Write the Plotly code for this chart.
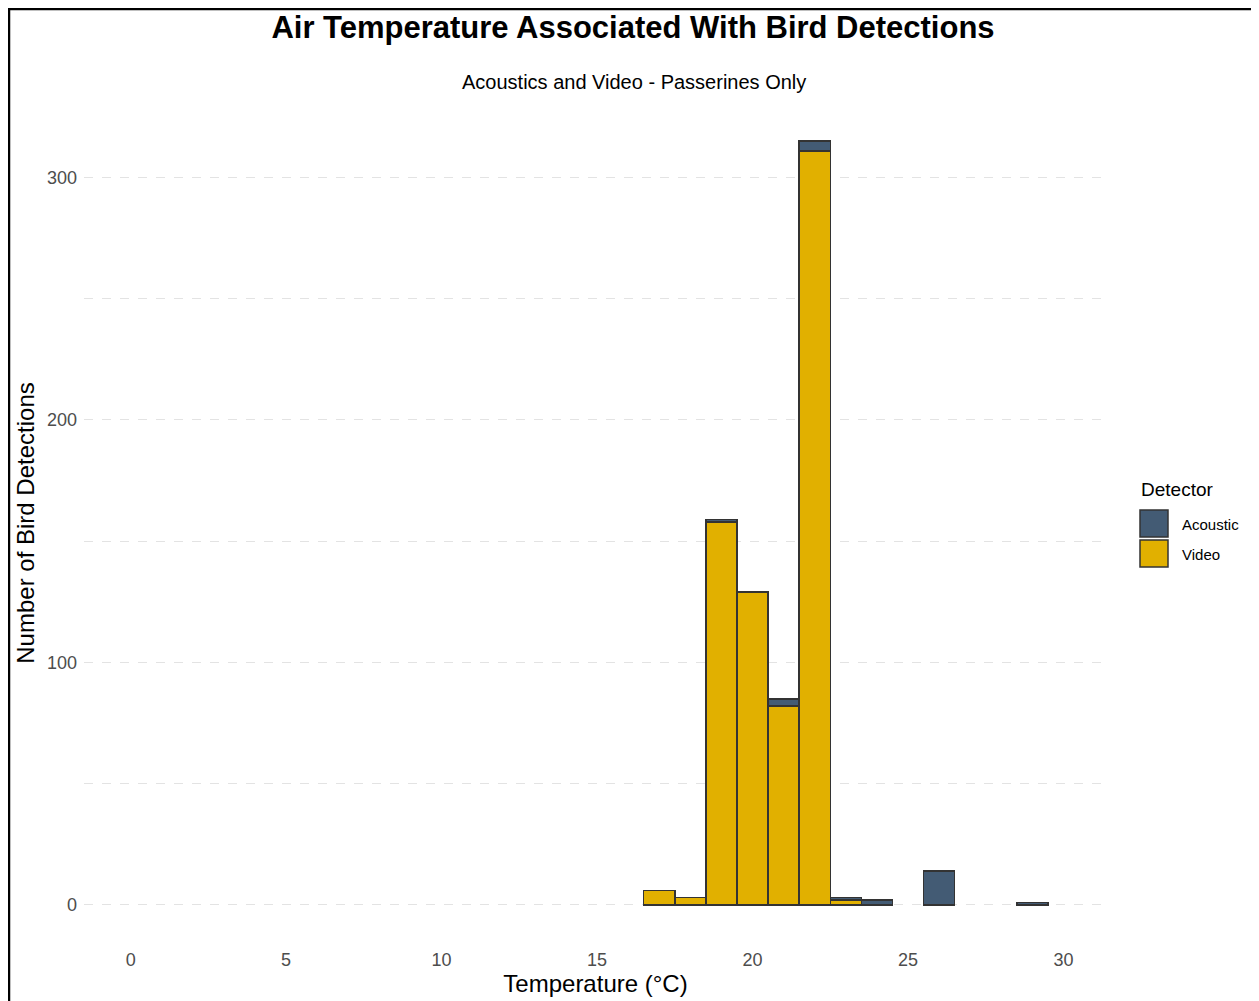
import plotly.graph_objects as go

# binned air temperature (bin centres, °C) and detection counts per detector
temps = [17, 18, 19, 20, 21, 22, 23, 24, 26, 29]
video = [6, 3, 158, 129, 82, 311, 2, None, None, None]
acoustic = [None, None, 1, None, 3, 4, 1, 2, 14, 1]

detectors = ["Acoustic", "Video"]
colours = {"Acoustic": "#435B74", "Video": "#E1B000"}

# page is offset by the 8px body margin, so work in page pixels and shift
OFF = 8
W, H = 1259 - OFF, 1001 - OFF
ML, MR, MT, MB = 84 - OFF, 152, 103 - OFF, 58


def px(x):
    return (x - OFF - ML) / (W - ML - MR)


def py(y):
    return 1 - (y - OFF - MT) / (H - MT - MB)


fig = go.Figure()
fig.add_trace(go.Bar(x=temps, y=video, name="Video", width=1, showlegend=False,
                     marker=dict(color=colours["Video"], line=dict(color="#333333", width=1.5))))
fig.add_trace(go.Bar(x=temps, y=acoustic, name="Acoustic", width=1, showlegend=False,
                     marker=dict(color=colours["Acoustic"], line=dict(color="#333333", width=1.5))))

fig.update_layout(
    width=W, height=H,
    margin=dict(l=ML, r=MR, t=MT, b=MB, autoexpand=False),
    barmode="stack",
    plot_bgcolor="white",
    paper_bgcolor="white",
    font=dict(family="Liberation Sans, Arial, sans-serif", color="black"),
    title=dict(text="<b>Air Temperature Associated With Bird Detections</b>",
               x=px(633), xref="paper", xanchor="center", y=1 - 19 / H, yanchor="middle",
               font=dict(size=31, color="black")),
    xaxis=dict(range=[-1.5, 31.4], tickvals=[0, 5, 10, 15, 20, 25, 30],
               showgrid=False, zeroline=False, showline=False, ticks="",
               tickfont=dict(size=18, color="#4D4D4D"), ticklabelstandoff=4,
               title=dict(text="Temperature (°C)", font=dict(size=24), standoff=5)),
    yaxis=dict(range=[-15.75, 330.75], tickvals=[0, 100, 200, 300],
               showgrid=True, gridcolor="#E3E3E3", griddash="dash", gridwidth=1,
               minor=dict(tickvals=[50, 150, 250], showgrid=True, gridcolor="#E3E3E3",
                          griddash="dash", gridwidth=1),
               zeroline=False, showline=False, ticks="",
               tickfont=dict(size=18, color="#4D4D4D"), ticklabelstandoff=6,
               title=dict(text="Number of Bird Detections", font=dict(size=24), standoff=5)),
)

fig.add_annotation(text="Acoustics and Video - Passerines Only", xref="paper", yref="paper",
                   x=px(634), y=py(69), showarrow=False, font=dict(size=20, color="black"))

# legend drawn by hand so the keys are the size of the original
fig.add_annotation(text="Detector", xref="paper", yref="paper", x=px(1139), y=py(490),
                   xanchor="left", yanchor="middle", showarrow=False,
                   font=dict(size=19, color="black"))
for i, name in enumerate(detectors):
    top = 510 + i * 30
    fig.add_shape(type="rect", xref="paper", yref="paper",
                  x0=px(1140), x1=px(1168), y0=py(top + 27), y1=py(top),
                  fillcolor=colours[name], line=dict(color="#333333", width=1.5))
    fig.add_annotation(text=name, xref="paper", yref="paper", x=px(1180), y=py(top + 14),
                       xanchor="left", yanchor="middle", showarrow=False,
                       font=dict(size=15, color="black"))

# outer frame (left, top, right edges) around the whole picture
fig.add_shape(type="path", xref="paper", yref="paper",
              path=f"M {px(9)} {py(1001)} L {px(9)} {py(9)} L {px(1257)} {py(9)} L {px(1257)} {py(1001)}",
              line=dict(color="black", width=2.5), layer="above")

fig.write_html("out.html")
